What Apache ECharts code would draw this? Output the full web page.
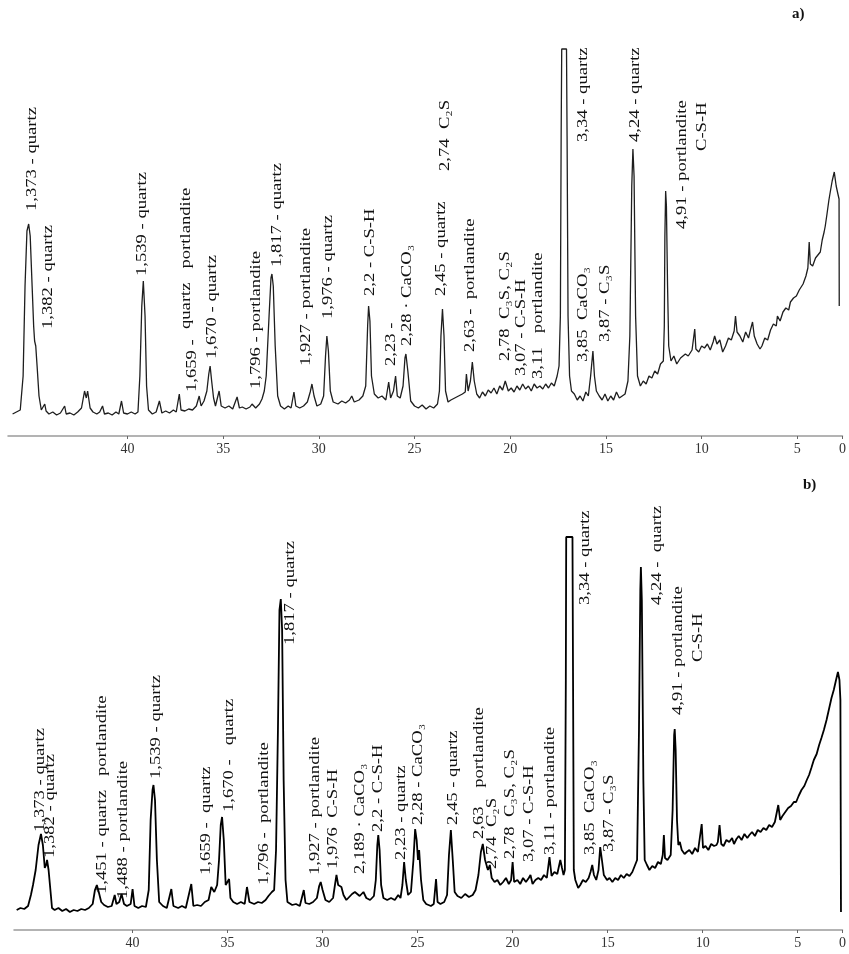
<!DOCTYPE html>
<html>
<head>
<meta charset="utf-8">
<script src="https://cdn.jsdelivr.net/npm/echarts@6/dist/echarts.min.js"></script>
<style>
  html, body { margin: 0; background: #fff; }
  #chart { width: 849px; height: 954px; }
</style>
</head>
<body>
<div id="chart"></div>
<script>
// 2-theta range shown and the tick labels
let thetaMin = 2.64;
let thetaMax = 46.24;
let tickValues = [40, 35, 30, 25, 20, 15, 10, 5, 2.64];

// pattern a) : [2theta, intensity]
let patternA = [
  [46.0, 22], [45.8, 24], [45.6, 26], [45.45, 60], [45.35, 150], [45.25, 205], [45.16, 212], [45.08, 200],
  [44.98, 150], [44.9, 110], [44.85, 95], [44.79, 90], [44.72, 70], [44.62, 40], [44.5, 26], [44.4, 24],
  [44.32, 32], [44.25, 25], [44.1, 22], [43.9, 24], [43.7, 21], [43.5, 23], [43.28, 30], [43.2, 22],
  [43.0, 23], [42.8, 21], [42.6, 24], [42.4, 28], [42.24, 45], [42.15, 38], [42.08, 45], [41.95, 28],
  [41.8, 24], [41.6, 22], [41.45, 24], [41.3, 30], [41.2, 22], [41.0, 23], [40.8, 21], [40.6, 24],
  [40.45, 22], [40.31, 35], [40.2, 23], [40.0, 22], [39.8, 24], [39.6, 22], [39.45, 24], [39.35, 60],
  [39.25, 130], [39.17, 155], [39.08, 120], [39.0, 50], [38.9, 26], [38.7, 22], [38.5, 24], [38.33, 35],
  [38.2, 23], [38.0, 25], [37.8, 23], [37.6, 26], [37.45, 24], [37.29, 42], [37.2, 26], [37.0, 25],
  [36.8, 27], [36.6, 26], [36.4, 30], [36.25, 40], [36.15, 30], [36.0, 35], [35.85, 45], [35.75, 62],
  [35.68, 70], [35.6, 55], [35.5, 38], [35.4, 30], [35.21, 45], [35.1, 30], [34.9, 28], [34.7, 30],
  [34.5, 27], [34.27, 39], [34.15, 28], [34.0, 29], [33.8, 27], [33.6, 29], [33.49, 32], [33.3, 28],
  [33.1, 32], [32.97, 37], [32.85, 45], [32.75, 60], [32.6, 120], [32.5, 158], [32.45, 162], [32.38, 150],
  [32.28, 90], [32.15, 40], [32.0, 30], [31.8, 27], [31.6, 30], [31.45, 28], [31.3, 44], [31.2, 30],
  [31.0, 28], [30.8, 30], [30.6, 34], [30.45, 44], [30.36, 52], [30.25, 40], [30.1, 30], [29.9, 32],
  [29.75, 40], [29.65, 80], [29.58, 100], [29.5, 85], [29.4, 45], [29.25, 34], [29.0, 32], [28.8, 35],
  [28.6, 33], [28.4, 36], [28.28, 40], [28.15, 34], [27.9, 36], [27.7, 40], [27.55, 50], [27.45, 110],
  [27.4, 130], [27.33, 115], [27.25, 60], [27.1, 42], [26.9, 38], [26.7, 40], [26.5, 36], [26.35, 54],
  [26.25, 38], [26.1, 45], [25.99, 60], [25.9, 40], [25.75, 38], [25.6, 50], [25.5, 78], [25.45, 82],
  [25.35, 65], [25.2, 35], [25.0, 30], [24.8, 28], [24.6, 31], [24.4, 27], [24.2, 30], [24.0, 28],
  [23.8, 32], [23.7, 45], [23.62, 100], [23.54, 127], [23.46, 100], [23.38, 45], [23.25, 34], [23.1, 36],
  [22.9, 38], [22.7, 40], [22.5, 42], [22.35, 44], [22.29, 62], [22.2, 45], [22.08, 55], [21.98, 74],
  [21.88, 55], [21.75, 42], [21.6, 38], [21.45, 44], [21.3, 40], [21.15, 46], [21.0, 43], [20.85, 48],
  [20.7, 42], [20.55, 50], [20.4, 46], [20.26, 55], [20.1, 45], [19.95, 48], [19.8, 44], [19.65, 50],
  [19.5, 46], [19.35, 52], [19.2, 47], [19.05, 50], [18.9, 45], [18.75, 52], [18.6, 48], [18.45, 50],
  [18.3, 47], [18.15, 52], [18.0, 48], [17.85, 53], [17.7, 50], [17.55, 60], [17.45, 70], [17.38, 120],
  [17.34, 300], [17.31, 387], [17.06, 387], [17.03, 300], [16.98, 120], [16.9, 60], [16.8, 45], [16.65, 42],
  [16.5, 36], [16.35, 40], [16.2, 35], [16.05, 44], [15.92, 40], [15.8, 60], [15.68, 85], [15.6, 60],
  [15.5, 45], [15.35, 40], [15.2, 36], [15.05, 42], [14.9, 35], [14.75, 40], [14.6, 36], [14.45, 44],
  [14.3, 38], [14.15, 40], [14.0, 42], [13.85, 55], [13.75, 100], [13.65, 250], [13.59, 287], [13.53, 260],
  [13.45, 120], [13.35, 60], [13.2, 50], [13.05, 55], [12.9, 52], [12.75, 60], [12.6, 58], [12.45, 65],
  [12.3, 62], [12.15, 72], [12.0, 75], [11.95, 110], [11.92, 200], [11.88, 245], [11.84, 230], [11.78, 150],
  [11.72, 90], [11.6, 75], [11.45, 80], [11.3, 72], [11.25, 74], [11.1, 78], [11.0, 76], [10.85, 82],
  [10.7, 80], [10.5, 86], [10.36, 107], [10.3, 87], [10.15, 84], [10.0, 90], [9.85, 88], [9.7, 92],
  [9.55, 86], [9.4, 94], [9.32, 100], [9.2, 92], [9.05, 96], [8.9, 84], [8.75, 90], [8.6, 98],
  [8.45, 96], [8.3, 105], [8.23, 120], [8.15, 104], [8.0, 100], [7.85, 94], [7.7, 104], [7.55, 98],
  [7.45, 106], [7.34, 114], [7.25, 100], [7.1, 92], [6.95, 87], [6.85, 90], [6.7, 98], [6.55, 96],
  [6.4, 106], [6.25, 112], [6.1, 110], [6.04, 120], [5.9, 115], [5.75, 124], [5.6, 128], [5.45, 126],
  [5.36, 134], [5.2, 138], [5.05, 140], [4.9, 146], [4.84, 144], [4.7, 152], [4.55, 160], [4.45, 168],
  [4.38, 194], [4.32, 172], [4.2, 170], [4.05, 178], [3.95, 180], [3.8, 184], [3.7, 196], [3.6, 204],
  [3.54, 210], [3.45, 222], [3.35, 236], [3.28, 244], [3.18, 255], [3.07, 264], [2.97, 250], [2.88, 242],
  [2.82, 237], [2.81, 130]
];

// pattern b)
let patternB = [
  [46.1, 20], [45.9, 22], [45.7, 21], [45.5, 24], [45.35, 35], [45.24, 45], [45.1, 60], [44.95, 85],
  [44.82, 96], [44.72, 85], [44.62, 62], [44.55, 65], [44.5, 70], [44.42, 60], [44.3, 35], [44.24, 22],
  [44.1, 20], [43.9, 22], [43.7, 19], [43.5, 21], [43.3, 18], [43.1, 20], [42.9, 19], [42.7, 21],
  [42.5, 20], [42.3, 22], [42.1, 26], [41.98, 40], [41.88, 45], [41.78, 38], [41.65, 28], [41.5, 25],
  [41.3, 23], [41.1, 24], [40.94, 35], [40.85, 26], [40.7, 28], [40.58, 36], [40.45, 26], [40.3, 24],
  [40.1, 26], [40.0, 41], [39.9, 24], [39.7, 22], [39.5, 24], [39.3, 23], [39.15, 40], [39.05, 110],
  [38.95, 140], [38.9, 145], [38.82, 130], [38.72, 70], [38.6, 28], [38.4, 24], [38.2, 22], [37.96, 41],
  [37.85, 24], [37.6, 22], [37.4, 24], [37.2, 22], [36.91, 46], [36.8, 24], [36.6, 25], [36.4, 24],
  [36.2, 28], [36.0, 30], [35.86, 43], [35.7, 38], [35.55, 45], [35.45, 70], [35.36, 105], [35.29, 113],
  [35.2, 90], [35.1, 45], [34.92, 51], [34.85, 32], [34.7, 28], [34.5, 26], [34.3, 28], [34.1, 26],
  [33.98, 43], [33.85, 28], [33.6, 26], [33.4, 28], [33.2, 27], [33.0, 30], [32.85, 34], [32.67, 38],
  [32.55, 40], [32.45, 80], [32.35, 200], [32.27, 320], [32.2, 331], [32.13, 300], [32.05, 150], [31.95, 50],
  [31.85, 28], [31.6, 25], [31.4, 26], [31.2, 24], [30.99, 40], [30.9, 27], [30.7, 26], [30.5, 28],
  [30.3, 32], [30.18, 44], [30.1, 48], [30.0, 40], [29.85, 30], [29.65, 28], [29.45, 32], [29.35, 45],
  [29.27, 55], [29.18, 45], [29.01, 43], [28.9, 35], [28.75, 30], [28.6, 33], [28.45, 36], [28.3, 38],
  [28.22, 38], [28.05, 34], [27.85, 38], [27.7, 32], [27.5, 30], [27.3, 34], [27.2, 50], [27.12, 85],
  [27.07, 95], [27.0, 80], [26.92, 45], [26.8, 32], [26.6, 30], [26.4, 32], [26.2, 30], [26.02, 35],
  [25.9, 32], [25.8, 45], [25.71, 68], [25.62, 50], [25.5, 35], [25.35, 38], [25.22, 70], [25.13, 101],
  [25.05, 90], [24.98, 70], [24.92, 80], [24.82, 50], [24.7, 30], [24.55, 26], [24.45, 28], [24.3, 24],
  [24.15, 26], [24.03, 51], [23.95, 28], [23.8, 26], [23.6, 28], [23.45, 35], [23.35, 75], [23.25, 100],
  [23.15, 70], [23.05, 38], [22.9, 34], [22.7, 32], [22.5, 36], [22.3, 33], [22.1, 35], [21.95, 40],
  [21.8, 55], [21.67, 78], [21.57, 86], [21.45, 70], [21.3, 60], [21.2, 65], [21.1, 52], [20.95, 48],
  [20.8, 50], [20.65, 45], [20.5, 48], [20.35, 52], [20.2, 46], [20.08, 50], [20.0, 68], [19.92, 48],
  [19.75, 50], [19.6, 46], [19.45, 52], [19.3, 48], [19.15, 52], [19.06, 55], [18.95, 46], [18.8, 50],
  [18.65, 52], [18.5, 50], [18.35, 55], [18.2, 52], [18.06, 73], [17.95, 54], [17.8, 58], [17.65, 56],
  [17.49, 70], [17.4, 62], [17.32, 55], [17.25, 60], [17.2, 250], [17.18, 393], [16.85, 393], [16.82, 250],
  [16.78, 60], [16.7, 50], [16.55, 42], [16.44, 45], [16.3, 50], [16.15, 48], [16.0, 52], [15.9, 58],
  [15.81, 65], [15.72, 55], [15.6, 50], [15.48, 60], [15.39, 83], [15.3, 70], [15.2, 55], [15.03, 50],
  [14.9, 52], [14.75, 48], [14.6, 52], [14.45, 50], [14.3, 55], [14.15, 52], [14.0, 56], [13.85, 54],
  [13.7, 58], [13.6, 60], [13.45, 70], [13.35, 200], [13.28, 340], [13.25, 363], [13.2, 330], [13.12, 150],
  [13.05, 70], [12.93, 65], [12.8, 60], [12.65, 64], [12.5, 62], [12.35, 68], [12.2, 66], [12.1, 75],
  [12.04, 95], [11.98, 72], [11.85, 70], [11.78, 71], [11.68, 75], [11.58, 120], [11.5, 195], [11.47, 201],
  [11.42, 180], [11.35, 110], [11.28, 85], [11.2, 88], [11.1, 80], [10.95, 76], [10.84, 78], [10.7, 80],
  [10.55, 76], [10.4, 82], [10.25, 78], [10.16, 80], [10.05, 106], [9.98, 82], [9.85, 84], [9.7, 80],
  [9.55, 86], [9.4, 84], [9.27, 85], [9.2, 88], [9.11, 105], [9.02, 86], [8.9, 84], [8.75, 90],
  [8.6, 88], [8.45, 92], [8.35, 86], [8.22, 91], [8.1, 94], [7.95, 90], [7.8, 96], [7.65, 92],
  [7.54, 95], [7.4, 98], [7.25, 94], [7.1, 100], [6.95, 98], [6.8, 102], [6.65, 100], [6.5, 105],
  [6.35, 103], [6.2, 108], [6.13, 108], [6.02, 125], [5.92, 110], [5.8, 114], [5.65, 118], [5.5, 122],
  [5.35, 124], [5.2, 128], [5.08, 128], [4.95, 134], [4.8, 140], [4.65, 144], [4.52, 150], [4.4, 155],
  [4.28, 162], [4.15, 170], [4.0, 176], [3.87, 185], [3.75, 192], [3.62, 200], [3.48, 210], [3.35, 221],
  [3.22, 232], [3.1, 240], [2.98, 250], [2.88, 258], [2.8, 250], [2.75, 230], [2.72, 18]
];

// peak labels: [2theta, intensity at text start, text]
let labelsA = [
  [44.95, 225, '1,373 - quartz'],
  [44.11, 107, '1,382 - quartz'],
  [39.22, 160, '1,539 - quartz'],
  [36.61, 44, '1,659 -'],
  [36.93, 107, 'quartz   portlandite'],
  [35.57, 77, '1,670 - quartz'],
  [33.28, 47, '1,796 - portlandite'],
  [32.19, 169, '1,817 - quartz'],
  [30.63, 70, '1,927 - portlandite'],
  [29.48, 117, '1,976 - quartz'],
  [27.29, 140, '2,2 - C-S-H'],
  [26.2, 70, '2,23 -'],
  [25.36, 90, '2,28 · CaCO₃'],
  [23.59, 140, '2,45 - quartz'],
  [23.39, 265, '2,74  C₂S'],
  [22.08, 84, '2,63 -  portlandite'],
  [20.26, 75, '2,78  C₃S, C₂S'],
  [19.43, 60, '3,07 - C-S-H'],
  [18.54, 57, '3,11   portlandite'],
  [16.2, 294, '3,34 - quartz'],
  [16.2, 74, '3,85  CaCO₃'],
  [15.05, 94, '3,87 - C₃S'],
  [13.49, 294, '4,24 - quartz'],
  [10.99, 207, '4,91 - portlandite'],
  [9.95, 285, 'C-S-H']
];

let labelsB = [
  [44.87, 98, '1,373 - quartz'],
  [44.35, 72, '1,382 - quartz'],
  [41.57, 36, '1,451 - quartz   portlandite'],
  [40.47, 31, '1,488 - portlandite'],
  [38.74, 151, '1,539 - quartz'],
  [36.13, 55, '1,659 -  quartz'],
  [34.92, 118, '1,670 -   quartz'],
  [33.09, 45, '1,796 -  portlandite'],
  [31.68, 285, '1,817 - quartz'],
  [30.37, 55, '1,927 - portlandite'],
  [29.42, 61, '1,976  C-S-H'],
  [28.01, 56, '2,189 · CaCO₃'],
  [27.07, 98, '2,2 - C-S-H'],
  [25.86, 70, '2,23 - quartz'],
  [24.97, 105, '2,28 - CaCO₃'],
  [23.14, 105, '2,45 - quartz'],
  [21.73, 91, '2,63    portlandite'],
  [21.05, 61, '2,74  C₂S'],
  [20.1, 71, '2,78  C₃S, C₂S'],
  [19.11, 68, '3,07 - C-S-H'],
  [18.01, 75, '3,11 - portlandite'],
  [16.18, 325, '3,34 - quartz'],
  [15.92, 75, '3,85  CaCO₃'],
  [14.92, 78, '3,87 - C₃S'],
  [12.41, 325, '4,24 -  quartz'],
  [11.26, 215, '4,91 - portlandite'],
  [10.21, 268, 'C-S-H']
];

let serif = '"Liberation Serif", "DejaVu Serif", serif';

function xAxisFor(gridIndex) {
  return {
    type: 'value',
    gridIndex,
    inverse: true,
    min: thetaMin,
    max: thetaMax,
    axisLine: { lineStyle: { color: '#9a9a9a', width: 1.5 } },
    axisTick: { customValues: tickValues, length: 3, lineStyle: { color: '#666' } },
    axisLabel: {
      customValues: tickValues,
      margin: 6,
      color: '#333',
      fontFamily: serif,
      fontSize: 14,
      formatter: (v) => (v < 3 ? '0' : String(v)),
    },
    splitLine: { show: false },
  };
}

let chart = echarts.init(document.getElementById('chart'));

chart.setOption({
  animation: false,
  backgroundColor: '#ffffff',
  grid: [
    { left: 8, right: 4, top: 16, bottom: 518 },
    { left: 14, right: 2, top: 510, bottom: 24 },
  ],
  xAxis: [xAxisFor(0), xAxisFor(1)],
  yAxis: [
    { type: 'value', gridIndex: 0, min: 0, max: 420, show: false },
    { type: 'value', gridIndex: 1, min: 0, max: 420, show: false },
  ],
  series: [
    {
      type: 'line',
      xAxisIndex: 0,
      yAxisIndex: 0,
      data: patternA,
      showSymbol: false,
      lineStyle: { color: '#1e1e1e', width: 1.3 },
    },
    {
      type: 'line',
      xAxisIndex: 1,
      yAxisIndex: 1,
      data: patternB,
      showSymbol: false,
      lineStyle: { color: '#000', width: 1.8 },
    },
  ],
});

// vertical peak labels, placed through the axes
function labelGraphics(labels, gridIndex) {
  return labels.map(([theta, val, text]) => {
    let p = chart.convertToPixel({ gridIndex }, [theta, val]);
    return {
      type: 'text',
      x: p[0],
      y: p[1],
      rotation: Math.PI / 2,
      scaleX: 1.33,
      silent: true,
      style: {
        text,
        fill: '#111',
        font: '14px ' + serif,
        align: 'left',
        verticalAlign: 'middle',
      },
    };
  });
}

chart.setOption({
  graphic: [
    ...labelGraphics(labelsA, 0),
    ...labelGraphics(labelsB, 1),
    { type: 'text', left: 792, top: 7, style: { text: 'a)', fill: '#111', font: 'bold 15px ' + serif } },
    { type: 'text', left: 803, top: 478, style: { text: 'b)', fill: '#111', font: 'bold 15px ' + serif } },
  ],
});
</script>
</body>
</html>
